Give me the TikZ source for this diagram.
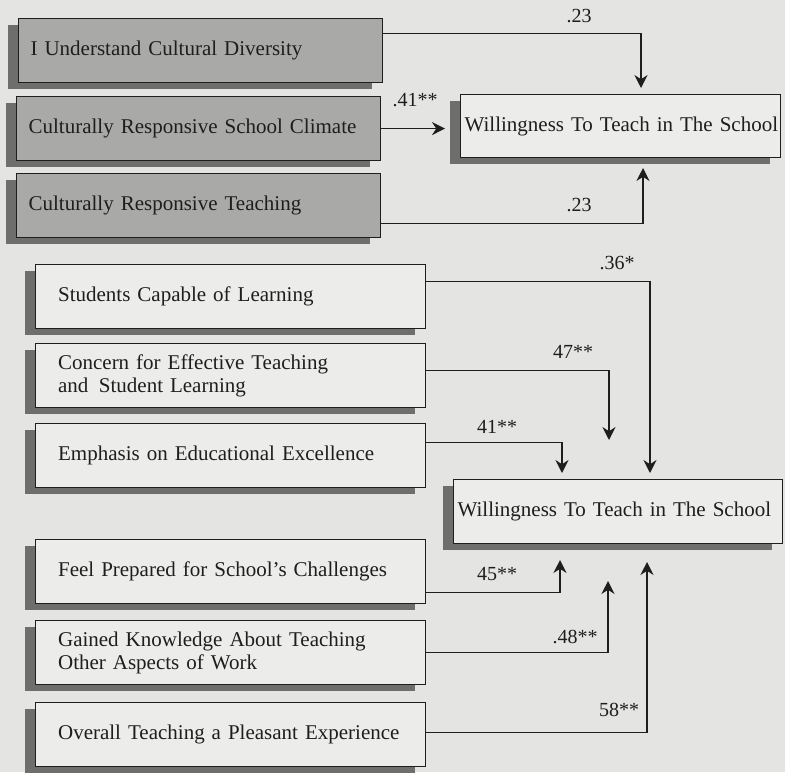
\documentclass[tikz,border=0pt]{standalone}
\usepackage{fontspec}
\setmainfont{Liberation Serif}
\usetikzlibrary{shadows,arrows.meta}
\definecolor{paper}{HTML}{E4E4E2}
\definecolor{boxgray}{HTML}{A9A9A7}
\definecolor{boxwhite}{HTML}{ECECEA}
\definecolor{shadowgray}{HTML}{6E6E6C}
\definecolor{ink}{HTML}{1E1E1E}

\begin{document}
\begin{tikzpicture}[x=1pt,y=-1pt,
  grayBox/.style={draw=ink, line width=1.2pt, fill=boxgray, anchor=north west,
    minimum height=64pt, text width=340pt, inner xsep=12pt, align=left,
    font=\fontsize{21}{23}\selectfont, text=ink,
    drop shadow={shadow xshift=-11pt,shadow yshift=-6pt,fill=shadowgray,opacity=1}},
  whiteBox/.style={grayBox, fill=boxwhite, text width=345pt, inner xsep=22.5pt},
  goalBox/.style={whiteBox, inner xsep=4pt},
  lbl/.style={font=\fontsize{20}{22}\selectfont, text=ink, inner sep=0pt},
  arr/.style={draw=ink, line width=1.2pt, -{Stealth[length=13pt,width=13pt]}}]

%background
			\fill[paper] (0,0) rectangle (785,772);
			\useasboundingbox (0,0) rectangle (785,772);

%top block
			\node[grayBox] (ucd) at (18,18) {I Understand Cultural Diversity};
			\node[grayBox] (crsc) at (16,96) {Culturally Responsive School Climate};
			\node[grayBox] (crt) at (16,173) {Culturally Responsive Teaching};
			\node[goalBox, text width=312pt, minimum height=63pt] (wtsA) at (460,94) {\mbox{Willingness To Teach in The School}};

%tips of top arrows
			\coordinate (tipUcd) at (641,88);
			\coordinate (tipCrsc) at (445,127);
			\coordinate (tipCrt) at (643,168);

			\draw[arr] ([yshift=17pt]ucd.east) -| (tipUcd);
			\draw[arr] (crsc.east) -- (crsc.east -| tipCrsc);
			\draw[arr] ([yshift=-18pt]crt.east) -| (tipCrt);

			\node[lbl] (wUcd) at (579,16) {.23};
			\node[lbl] (wCrsc) at (415,100) {.41**};
			\node[lbl] (wCrt) at (579,205) {.23};

%bottom block
			\node[whiteBox] (scl) at (35,264) {Students Capable of Learning};
			\node[whiteBox] (cet) at (35,343) {Concern for Effective Teaching\\and\enspace Student Learning};
			\node[whiteBox] (eee) at (35,423) {Emphasis on Educational Excellence};
			\node[whiteBox] (fps) at (35,539) {Feel Prepared for School’s Challenges};
			\node[whiteBox] (gka) at (35,620) {Gained Knowledge About Teaching\\Other Aspects of Work};
			\node[whiteBox] (otp) at (35,702) {\mbox{Overall Teaching a Pleasant Experience}};
			\node[goalBox, text width=321pt] (wtsB) at (453,479) {\mbox{Willingness To Teach in The School}};

%tips of bottom arrows
			\coordinate (tipScl) at (650,473);
			\coordinate (tipCet) at (609,440);
			\coordinate (tipEee) at (562,473);
			\coordinate (tipFps) at (560,560);
			\coordinate (tipGka) at (608,581);
			\coordinate (tipOtp) at (647,562);

			\draw[arr] ([yshift=15pt]scl.east) -| (tipScl);
			\draw[arr] ([yshift=5pt]cet.east) -| (tipCet);
			\draw[arr] ([yshift=13pt]eee.east) -| (tipEee);
			\draw[arr] ([yshift=-21pt]fps.east) -| (tipFps);
			\draw[arr] (gka.east) -| (tipGka);
			\draw[arr] ([yshift=2pt]otp.east) -| (tipOtp);

			\node[lbl] (wScl) at (617,263) {.36*};
			\node[lbl] (wCet) at (573,352) {47**};
			\node[lbl] (wEee) at (497,427) {41**};
			\node[lbl] (wFps) at (497,574) {45**};
			\node[lbl] (wGka) at (575,637) {.48**};
			\node[lbl] (wOtp) at (619,710) {58**};

\end{tikzpicture}
\end{document}
